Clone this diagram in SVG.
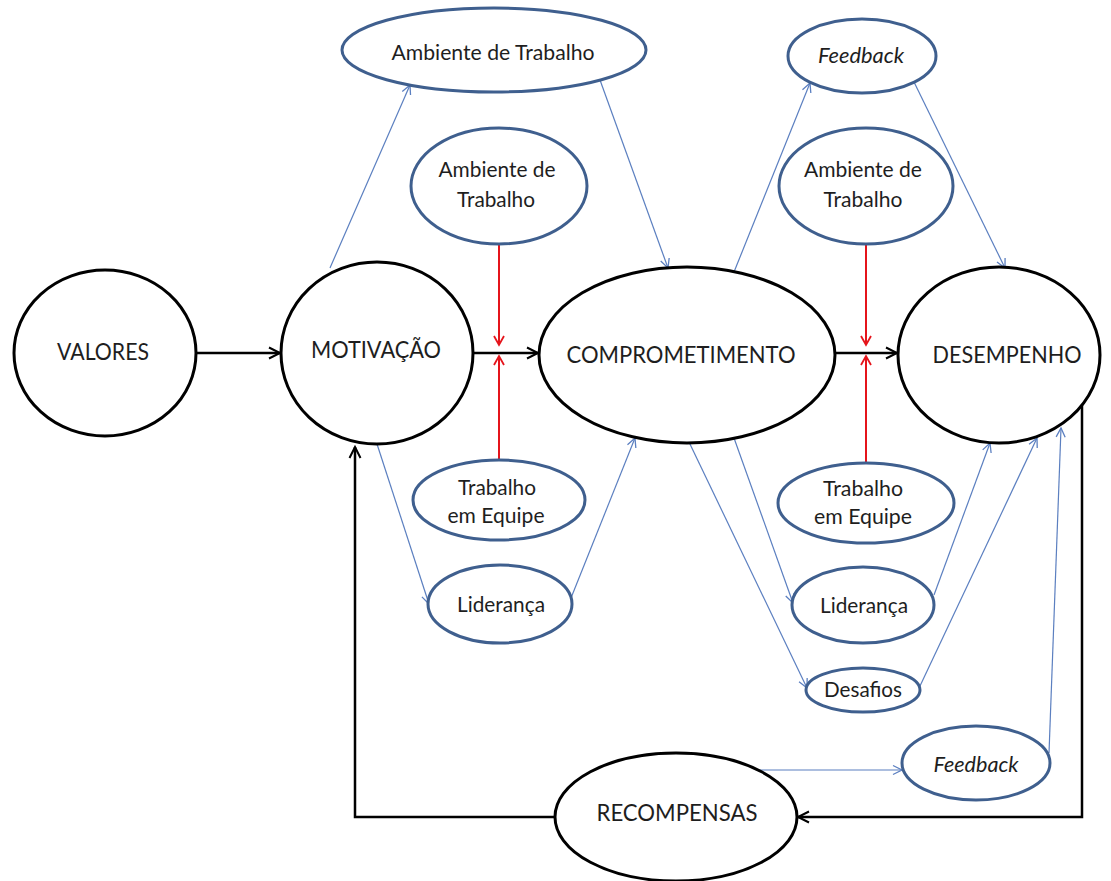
<svg xmlns="http://www.w3.org/2000/svg" width="1111" height="881" viewBox="0 0 1111 881">
  <style>
    .main { fill: #ffffff; stroke: #000000; stroke-width: 3; }
    .sub { fill: #ffffff; stroke: #3f5f8e; stroke-width: 3; }
    .lbl { font-family: Lato, "Open Sans", "Liberation Sans", sans-serif; fill: #1e1e1e; text-anchor: middle; }
    .big { font-size: 24px; }
    .small { font-size: 21px; }
    .it { font-style: italic; }
    .flow { stroke: #000000; stroke-width: 2.5; fill: none; }
    .link { stroke: #5b7fc0; stroke-width: 1.2; fill: none; }
    .force { stroke: #e5141b; stroke-width: 2; fill: none; }
  </style>
  <defs>
    <marker id="arrowBlack" viewBox="-13 -8 16 16" refX="0" refY="0" markerWidth="16" markerHeight="16" markerUnits="userSpaceOnUse" orient="auto">
      <path d="M-11,-5.5 L0,0 L-11,5.5" fill="none" stroke="#000000" stroke-width="2"/>
    </marker>
    <marker id="arrowRed" viewBox="-11 -7 14 14" refX="0" refY="0" markerWidth="14" markerHeight="14" markerUnits="userSpaceOnUse" orient="auto">
      <path d="M-9,-5 L0,0 L-9,5" fill="none" stroke="#e5141b" stroke-width="1.8"/>
    </marker>
    <marker id="arrowBlue" viewBox="-11 -7 14 14" refX="0" refY="0" markerWidth="14" markerHeight="14" markerUnits="userSpaceOnUse" orient="auto">
      <path d="M-9,-4.5 L0,0 L-9,4.5" fill="none" stroke="#5b7fc0" stroke-width="1.3"/>
    </marker>
  </defs>

  <rect x="0" y="0" width="1111" height="881" fill="#ffffff"/>

  <!-- connectors -->
  <g id="connectors">
    <!-- main chain -->
    <line class="flow" x1="196" y1="353" x2="280" y2="353" marker-end="url(#arrowBlack)"/>
    <line class="flow" x1="474" y1="353" x2="538" y2="353" marker-end="url(#arrowBlack)"/>
    <line class="flow" x1="835" y1="353" x2="897" y2="353" marker-end="url(#arrowBlack)"/>
    <!-- feedback loop -->
    <path class="flow" d="M1082,404 V817 H798" marker-end="url(#arrowBlack)"/>
    <path class="flow" d="M556,817 H355 V447" marker-end="url(#arrowBlack)"/>

    <!-- converging forces -->
    <line class="force" x1="499" y1="244" x2="499" y2="345" marker-end="url(#arrowRed)"/>
    <line class="force" x1="499" y1="460" x2="499" y2="356" marker-end="url(#arrowRed)"/>
    <line class="force" x1="866" y1="244" x2="866" y2="345" marker-end="url(#arrowRed)"/>
    <line class="force" x1="866" y1="463" x2="866" y2="356" marker-end="url(#arrowRed)"/>

    <!-- influence links -->
    <line class="link" x1="330" y1="268" x2="410" y2="85" marker-end="url(#arrowBlue)"/>
    <line class="link" x1="600" y1="80" x2="668" y2="268" marker-end="url(#arrowBlue)"/>
    <line class="link" x1="734" y1="272" x2="810" y2="83" marker-end="url(#arrowBlue)"/>
    <line class="link" x1="914" y1="82" x2="1005" y2="268" marker-end="url(#arrowBlue)"/>
    <line class="link" x1="377" y1="444" x2="429" y2="604" marker-end="url(#arrowBlue)"/>
    <line class="link" x1="571" y1="598" x2="635" y2="438" marker-end="url(#arrowBlue)"/>
    <line class="link" x1="689" y1="442" x2="807" y2="688" marker-end="url(#arrowBlue)"/>
    <line class="link" x1="734" y1="438" x2="793" y2="603" marker-end="url(#arrowBlue)"/>
    <line class="link" x1="934" y1="595" x2="990" y2="443" marker-end="url(#arrowBlue)"/>
    <line class="link" x1="920" y1="686" x2="1037" y2="438" marker-end="url(#arrowBlue)"/>
    <line class="link" x1="1049" y1="753" x2="1061" y2="428" marker-end="url(#arrowBlue)"/>
    <line class="link" x1="758" y1="770" x2="902" y2="770" marker-end="url(#arrowBlue)"/>
  </g>

  <!-- main stages -->
  <g id="valores">
    <ellipse class="main" cx="105" cy="353" rx="91" ry="83"/>
    <text class="lbl big" x="103" y="360" textLength="92" lengthAdjust="spacingAndGlyphs">VALORES</text>
  </g>
  <g id="motivacao">
    <ellipse class="main" cx="377" cy="353" rx="96" ry="91"/>
    <text class="lbl big" x="376" y="358" textLength="130" lengthAdjust="spacingAndGlyphs">MOTIVAÇÃO</text>
  </g>
  <g id="comprometimento">
    <ellipse class="main" cx="687" cy="355" rx="148" ry="88"/>
    <text class="lbl big" x="681" y="363" textLength="229" lengthAdjust="spacingAndGlyphs">COMPROMETIMENTO</text>
  </g>
  <g id="desempenho">
    <ellipse class="main" cx="999" cy="355" rx="101" ry="88"/>
    <text class="lbl big" x="1007" y="363" textLength="149" lengthAdjust="spacingAndGlyphs">DESEMPENHO</text>
  </g>
  <g id="recompensas">
    <ellipse class="main" cx="676" cy="817" rx="121" ry="64"/>
    <text class="lbl big" x="677" y="821" textLength="161" lengthAdjust="spacingAndGlyphs">RECOMPENSAS</text>
  </g>

  <!-- factors -->
  <g id="ambiente-topo">
    <ellipse class="sub" cx="494" cy="50" rx="152" ry="42"/>
    <text class="lbl small" x="493" y="60" textLength="203" lengthAdjust="spacingAndGlyphs">Ambiente de Trabalho</text>
  </g>
  <g id="ambiente-esq">
    <ellipse class="sub" cx="499" cy="186" rx="88" ry="58"/>
    <text class="lbl small" x="497" y="177" textLength="117" lengthAdjust="spacingAndGlyphs">Ambiente de</text>
    <text class="lbl small" x="496" y="207" textLength="78" lengthAdjust="spacingAndGlyphs">Trabalho</text>
  </g>
  <g id="feedback-topo">
    <ellipse class="sub" cx="862" cy="56" rx="74" ry="37"/>
    <text class="lbl small it" x="861" y="63" textLength="86" lengthAdjust="spacingAndGlyphs">Feedback</text>
  </g>
  <g id="ambiente-dir">
    <ellipse class="sub" cx="866" cy="186" rx="87" ry="58"/>
    <text class="lbl small" x="863" y="177" textLength="118" lengthAdjust="spacingAndGlyphs">Ambiente de</text>
    <text class="lbl small" x="863" y="207" textLength="79" lengthAdjust="spacingAndGlyphs">Trabalho</text>
  </g>
  <g id="equipe-esq">
    <ellipse class="sub" cx="499" cy="500" rx="86" ry="40"/>
    <text class="lbl small" x="497" y="495" textLength="78" lengthAdjust="spacingAndGlyphs">Trabalho</text>
    <text class="lbl small" x="496" y="523" textLength="97" lengthAdjust="spacingAndGlyphs">em Equipe</text>
  </g>
  <g id="lideranca-esq">
    <ellipse class="sub" cx="500" cy="604" rx="72" ry="39"/>
    <text class="lbl small" x="501" y="612" textLength="88" lengthAdjust="spacingAndGlyphs">Liderança</text>
  </g>
  <g id="equipe-dir">
    <ellipse class="sub" cx="866" cy="503" rx="88" ry="40"/>
    <text class="lbl small" x="863" y="496" textLength="80" lengthAdjust="spacingAndGlyphs">Trabalho</text>
    <text class="lbl small" x="863" y="524" textLength="98" lengthAdjust="spacingAndGlyphs">em Equipe</text>
  </g>
  <g id="lideranca-dir">
    <ellipse class="sub" cx="863" cy="605" rx="71" ry="38"/>
    <text class="lbl small" x="864" y="613" textLength="88" lengthAdjust="spacingAndGlyphs">Liderança</text>
  </g>
  <g id="desafios">
    <ellipse class="sub" cx="863" cy="690" rx="57" ry="22"/>
    <text class="lbl small" x="863" y="697" textLength="78" lengthAdjust="spacingAndGlyphs">Desafios</text>
  </g>
  <g id="feedback-base">
    <ellipse class="sub" cx="976" cy="763" rx="74" ry="37"/>
    <text class="lbl small it" x="976" y="772" textLength="85" lengthAdjust="spacingAndGlyphs">Feedback</text>
  </g>
</svg>
